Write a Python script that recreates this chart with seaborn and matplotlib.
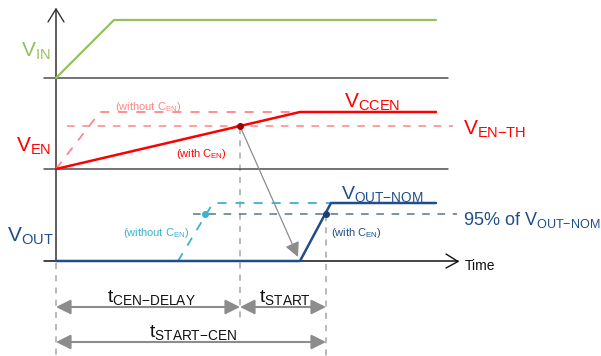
import matplotlib
matplotlib.use("Agg")
import matplotlib.pyplot as plt
import seaborn as sns
import pandas as pd

# ---- data (time on x, signal level on y; diagram units) ----
VIN_T = [56, 114, 436]
VIN_V = [78, 20, 20]

VEN_T = [56, 300, 436]
VEN_V = [169, 112, 112]
VEN_NOCAP_T = [56, 100, 300]
VEN_NOCAP_V = [169, 112, 112]
VEN_TH_T = [67, 453]
VEN_TH_V = [126, 126]

VOUT_T = [56, 300, 331, 436]
VOUT_V = [261, 261, 203, 203]
VOUT_NOCAP_T = [178, 213, 331]
VOUT_NOCAP_V = [261, 203, 203]
V95_T = [193, 457]
V95_V = [214, 214]

BASE_LEVELS = [78, 169]
T_CEN_DELAY = 240
T_START_END = 326
T0 = 56

GREEN = "#95c05e"
RED = "#ff0000"
LRED = "#ff8585"
DBLUE = "#1f4e8c"
LBLUE = "#3cb1d1"
GREY = "#8c8c8c"

sns.set_theme(style="white")
plt.rcParams["font.family"] = ["Liberation Sans", "DejaVu Sans"]
plt.rcParams["mathtext.fontset"] = "custom"
plt.rcParams["mathtext.rm"] = "Liberation Sans"
plt.rcParams["mathtext.it"] = "Liberation Sans"
plt.rcParams["mathtext.bf"] = "Liberation Sans"

fig = plt.figure(figsize=(6.01, 3.56), dpi=100)
ax = fig.add_axes([0, 0, 1, 1])
ax.set_xlim(0, 601)
ax.set_ylim(356, 0)
ax.axis("off")


def line(t, v, color, lw=1.6, dashes=None, z=3):
    df = pd.DataFrame({"t": t, "v": v})
    sns.lineplot(data=df, x="t", y="v", sort=False, estimator=None,
                 color=color, lw=lw, ax=ax, zorder=z)
    ln = ax.lines[-1]
    if dashes:
        ln.set_dashes(dashes)
    return ln


# baselines
for lvl in BASE_LEVELS:
    line([44, 448], [lvl, lvl], "#4d4d4d", lw=1.1, z=2)
# time axis
line([44, 458], [261, 261], "#111111", lw=1.1, z=2)
line([446, 458, 446], [254, 261.5, 268], "#111111", lw=1.0, z=2)
# vertical axis
line([T0, T0], [9, 261], "#333333", lw=1.1, z=2)
line([48, 56, 64], [22, 9, 22], "#333333", lw=1.0, z=2)

# grey dashed markers
line([T0, T0], [263, 356], "#a6a6a6", lw=1.1, dashes=(4, 4), z=1)
line([T_CEN_DELAY, T_CEN_DELAY], [128, 320], "#a6a6a6", lw=1.1, dashes=(4, 4), z=1)
line([T_START_END, T_START_END], [215, 356], "#a6a6a6", lw=1.1, dashes=(4, 4), z=1)

# VIN
line(VIN_T, VIN_V, GREEN, lw=1.6)

# VEN
line(VEN_TH_T, VEN_TH_V, LRED, lw=1.1, dashes=(5, 5))
line(VEN_NOCAP_T, VEN_NOCAP_V, LRED, lw=1.3, dashes=(5, 5))
line(VEN_T, VEN_V, RED, lw=1.8, z=4)

# VOUT
line(V95_T, V95_V, "#5d7194", lw=1.1, dashes=(5, 5))
line(VOUT_NOCAP_T, VOUT_NOCAP_V, LBLUE, lw=1.3, dashes=(5, 5))
line(VOUT_T, VOUT_V, DBLUE, lw=1.8, z=4)

# dots
ax.plot([T_CEN_DELAY], [126], "o", color="#a00000", ms=4, zorder=5)
ax.plot([205], [214], "o", color=LBLUE, ms=4, zorder=5)
ax.plot([T_START_END], [214], "o", color="#1a3f70", ms=4, zorder=5)

# diagonal causality arrow
ax.annotate("", xy=(298, 257), xytext=(T_CEN_DELAY, 126),
            arrowprops=dict(arrowstyle="-|>", color=GREY, lw=0.9,
                            mutation_scale=22, shrinkA=0, shrinkB=0))

# timing arrows
for (a, b, y) in [(T0, T_CEN_DELAY, 307), (T_CEN_DELAY, T_START_END, 307),
                  (T0, T_START_END, 342)]:
    ax.annotate("", xy=(b, y), xytext=(a, y),
                arrowprops=dict(arrowstyle="<|-|>", color=GREY, lw=1.5,
                                mutation_scale=22, shrinkA=0, shrinkB=0))

# labels
def txt(x, y, s, color, size, **kw):
    ax.text(x, y, s, color=color, fontsize=size, va="baseline", ha="left", **kw)

txt(21, 57, r"$\mathrm{V}_{\mathrm{IN}}$", GREEN, 15)
txt(16, 152, r"$\mathrm{V}_{\mathrm{EN}}$", RED, 15)
txt(7, 242, r"$\mathrm{V}_{\mathrm{OUT}}$", DBLUE, 15)
txt(344, 108, r"$\mathrm{V}_{\mathrm{CCEN}}$", RED, 15)
txt(463, 135, r"$\mathrm{V}_{\mathrm{EN{-}TH}}$", RED, 15)
txt(341, 199, r"$\mathrm{V}_{\mathrm{OUT{-}NOM}}$", DBLUE, 14)
txt(463, 225, r"95% of $\mathrm{V}_{\mathrm{OUT{-}NOM}}$", DBLUE, 13)
txt(465, 270, "Time", "#111111", 10)

txt(115, 110, r"(without $\mathrm{C}_{\mathrm{EN}}$)", LRED, 8)
txt(176, 157, r"(with $\mathrm{C}_{\mathrm{EN}}$)", RED, 8)
txt(123, 236, r"(without $\mathrm{C}_{\mathrm{EN}}$)", LBLUE, 8)
txt(331, 236, r"(with $\mathrm{C}_{\mathrm{EN}}$)", DBLUE, 8)

txt(107, 302, r"$\mathrm{t}_{\mathrm{CEN{-}DELAY}}$", "#111111", 14)
txt(259, 302, r"$\mathrm{t}_{\mathrm{START}}$", "#111111", 14)
txt(149, 337, r"$\mathrm{t}_{\mathrm{START{-}CEN}}$", "#111111", 14)

fig.savefig("out.png", dpi=100)
